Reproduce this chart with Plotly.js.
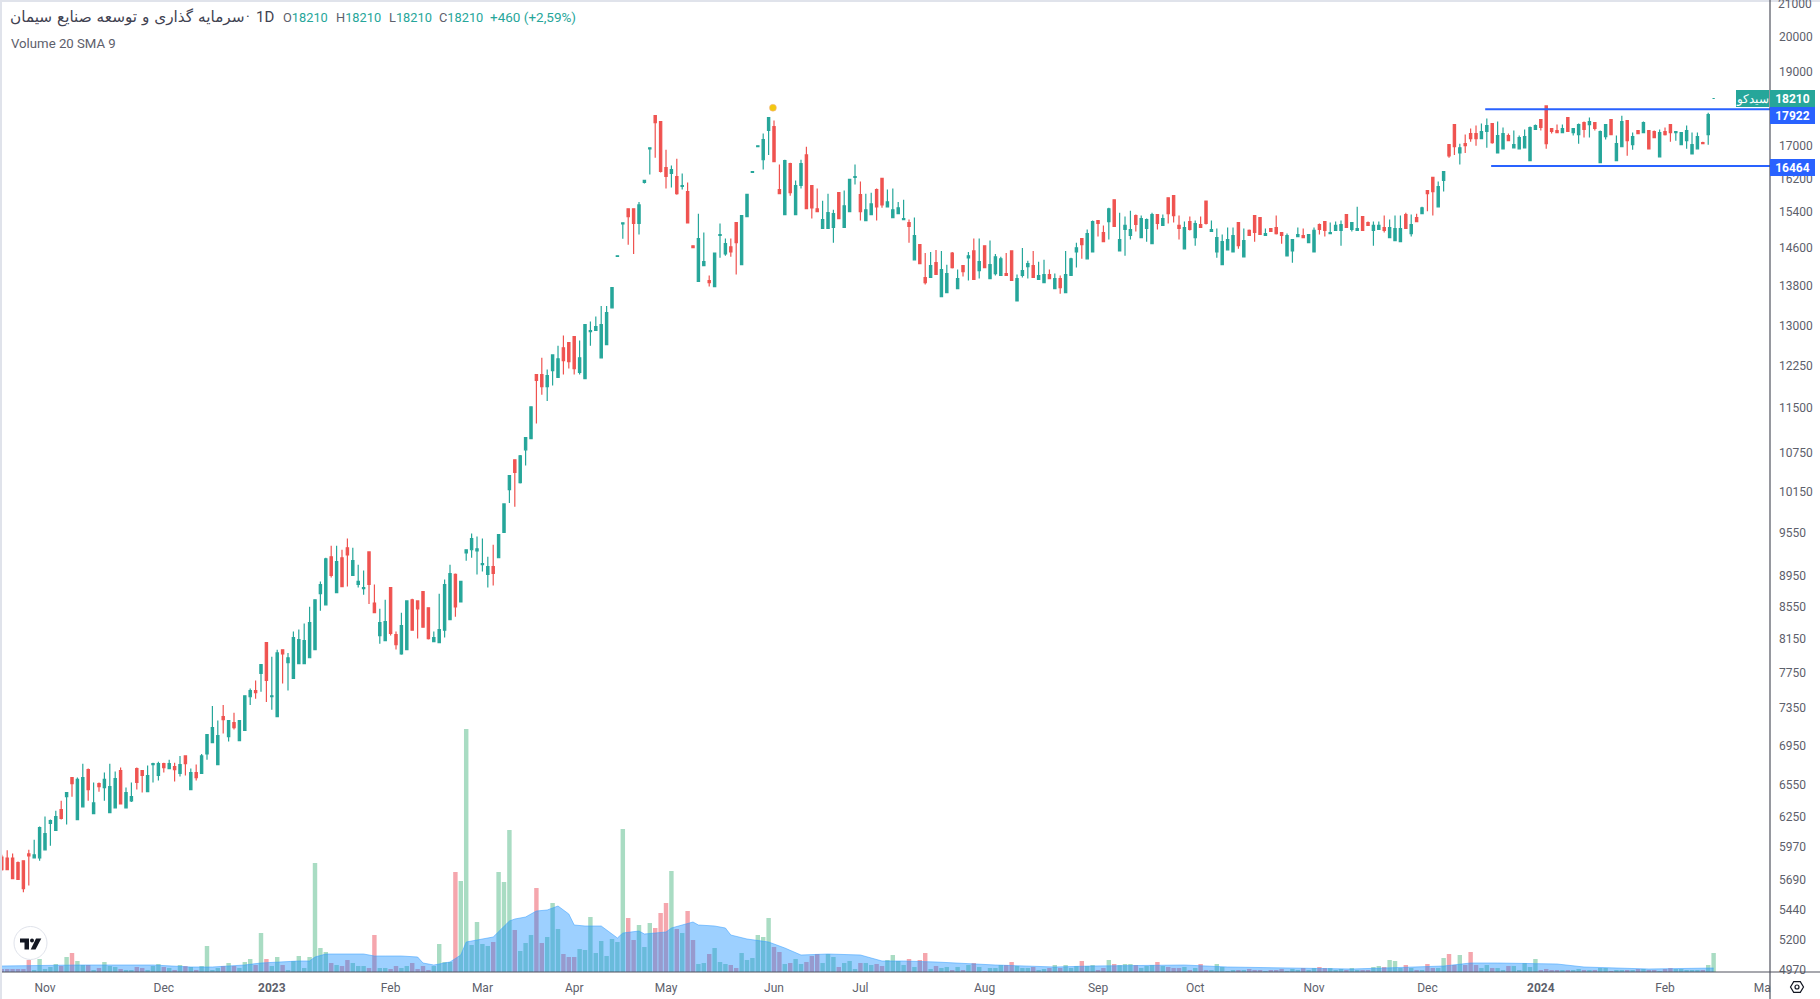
<!DOCTYPE html>
<html><head><meta charset="utf-8">
<script src="https://cdn.plot.ly/plotly-3.0.1.min.js"></script>
<style>html,body{margin:0;padding:0;background:#fff;overflow:hidden}#c{width:1820px;height:999px}</style>
</head><body><div id="c"></div>
<script>
const opens=[5870,5860,5860,5820,5837,5897,5863,5863,5933,6171,
6107,6299,6423,6609,6207,6326,6688,6262,6550,6511,
6271,6317,6678,6317,6383,6698,6678,6471,6738,6629,
6747,6698,6718,6649,6826,6491,6659,6649,6846,6962,
6738,7238,7026,7175,6983,7090,7456,7525,7719,8083,
7456,7238,7997,7845,7662,7834,7834,7903,8000,8696,
8552,9188,8709,9175,9313,8935,8816,8763,9255,8576,
8169,8107,8776,8181,7948,8000,8616,8603,8723,8514,
8095,8083,8235,8366,8949,8590,9241,9285,9270,9081,
8949,9055,9175,9528,10158,10620,10265,10778,10962,12061,
12061,11846,12133,12007,12552,12648,12764,12097,11989,12860,
12880,12365,12610,13324,14384,15100,15447,15447,15110,16064,
16892,17750,17594,16426,16281,16209,15968,15847,14617,13857,
14190,13878,13753,14842,14439,14595,15133,14210,15267,16306,
16944,16619,17360,17464,15896,15312,16523,15312,15992,16740,
15992,15447,14998,14998,15020,15823,15020,15379,16185,15775,
15177,15312,15896,16161,15491,15245,15334,15200,15133,14314,
14640,13940,13940,14252,13545,13628,14460,13711,14190,14356,
14505,14086,14617,13919,14023,13982,14023,14505,13462,13982,
14169,14190,13899,13836,14003,13711,13919,13628,13982,14483,
14774,14335,14483,15177,14909,15155,15654,14505,14976,14842,
15290,14797,14998,14662,15312,15066,15703,15751,15066,14550,
15155,14797,15088,15626,14931,14483,14211,14528,14483,15133,
14377,14954,15290,15245,14842,14998,15021,14909,14398,14505,
14819,14842,14684,14483,15088,15155,14886,14954,14954,15312,
14976,14954,15267,15133,14954,14976,15021,14797,14729,14707,
15312,14886,15245,15334,15871,16185,15491,16113,16996,17516,
16788,17022,17282,17282,17152,17334,17542,16788,16892,17230,
16918,16892,16918,16595,17386,17646,18010,17412,17360,17308,
17698,17308,17256,17568,17516,17568,16547,17204,17646,16595,
16944,17620,16996,17360,17308,17360,17334,16692,17334,17516,
17308,16996,17100,16764,16892,17048,17256,18210];
const highs=[5890,5930,5900,5830,5837,5933,6024,6143,6235,6207,
6290,6383,6462,6609,6609,6747,6698,6560,6560,6659,
6747,6668,6708,6511,6560,6708,6678,6728,6757,6767,
6757,6787,6757,6826,6826,6698,6738,6846,7047,7355,
7196,7366,7196,7281,7196,7467,7547,7639,7822,8083,
7914,7997,7997,7960,8218,8243,8317,8527,8616,8856,
9175,9342,9342,9285,9442,9313,9081,9001,9255,8816,
8502,8616,8776,8218,8453,8603,8630,8603,8723,8514,
8218,8696,8882,9081,8962,8856,9285,9513,9470,9442,
9188,9356,9499,9943,10373,10620,10697,10978,11494,12061,
12365,12150,12419,12591,12784,12648,12764,12687,12996,13053,
13150,13362,13362,13732,14398,15126,15447,15447,15605,16113,
16918,17750,17594,16866,16474,16643,16281,16064,14617,15334,
14909,13982,14460,15110,14774,14774,15133,15290,15782,16330,
16970,17282,17698,17620,16499,16619,16547,16113,16619,16944,
15992,15920,15630,15799,15424,15823,15871,16137,16499,16089,
15799,15823,15920,16161,15896,15920,15605,15654,15200,15245,
14640,14460,14483,14527,14505,14210,14483,14106,14190,14483,
14774,14774,14617,14730,14439,14377,14460,14505,14003,14568,
14294,14505,14273,14314,14106,14023,13982,14505,14356,14685,
14774,14976,15177,15177,15066,15469,15654,15357,15267,15402,
15312,15290,15222,15357,15312,15312,15703,15751,15290,15155,
15267,15178,15267,15626,15178,14998,14864,15021,15021,15133,
14998,14976,15290,15245,14998,14998,15290,14909,14886,14752,
15021,14998,14864,15021,15110,15155,15133,15155,15178,15312,
15133,15491,15267,15155,15155,15155,15290,15200,15290,15290,
15357,15312,15334,15491,15871,16185,16089,16330,16996,17516,
17022,17256,17412,17490,17542,17672,17542,17594,17438,17282,
17360,17230,17386,17464,17516,17646,18010,17412,17516,17516,
17698,17412,17542,17594,17698,17568,17360,17516,17646,17230,
17750,17620,17308,17360,17594,17360,17360,17386,17438,17516,
17334,17308,17490,17308,17308,17074,17828,18210];
const lows=[5750,5755,5684,5676,5568,5625,5863,5837,5933,5970,
6107,6207,6162,6423,6207,6326,6383,6262,6471,6383,
6271,6317,6354,6317,6373,6491,6462,6471,6560,6580,
6659,6698,6570,6619,6629,6491,6580,6649,6787,6962,
6738,7058,6973,7100,6983,7090,7366,7433,7513,7398,
7313,7238,7605,7525,7662,7834,7834,7903,8000,8477,
8552,8909,8709,8789,8789,8935,8776,8683,8564,8453,
8070,8107,8169,8000,7937,8000,8235,8132,8271,8120,
8095,8083,8144,8366,8403,8590,9135,9175,8949,8988,
8776,8802,9175,9528,9957,9900,10250,10528,10962,11211,
11702,11595,11864,12007,12061,12168,12061,12061,11989,12591,
12880,12365,12610,13324,14384,14771,14640,14440,14863,16040,
16257,16667,16306,15920,15944,15775,15896,15125,14573,13857,
14190,13753,13753,14356,14398,14377,14003,14210,15267,16306,
16944,16378,16740,16571,15799,15312,15751,15312,15920,15447,
15222,15379,14998,14998,14685,15222,15020,15379,16016,15177,
15177,15312,15177,15469,15491,15245,15334,15200,14685,14314,
14231,13794,13940,14003,13545,13628,14127,13711,13961,13878,
13899,13919,14148,13919,13982,13982,13982,13878,13462,13940,
13919,13940,13899,13836,13919,13711,13607,13628,13982,14148,
14335,14335,14483,14819,14707,14752,15043,14505,14398,14752,
14931,14797,14707,14662,14976,15066,15110,15133,14752,14550,
14954,14617,15021,15088,14931,14356,14211,14528,14483,14550,
14377,14842,14707,14864,14842,14931,14864,14662,14398,14252,
14819,14797,14684,14483,14864,14819,14886,14954,14617,15021,
14931,14954,14954,15066,14617,14976,14909,14797,14729,14707,
14998,14819,15155,15334,15387,15290,15491,15847,16667,16740,
16499,16788,17074,16970,17152,16918,17022,16788,16892,17100,
16918,16892,16918,16595,17386,17360,16892,17282,17308,17308,
17334,17230,17022,17178,17178,17360,16547,17126,17256,16595,
16944,16716,16866,17282,17308,16892,17178,16692,17230,17074,
17100,16996,16892,16764,16892,17022,16996,18210];
const closes=[5760,5760,5684,5676,5600,5880,5888,6134,6079,6198,
6235,6217,6462,6550,6590,6609,6491,6363,6520,6590,
6520,6599,6354,6462,6423,6560,6629,6629,6747,6747,
6708,6747,6688,6738,6747,6659,6609,6826,7047,7121,
7037,7206,7196,7121,7196,7467,7525,7502,7822,7639,
7467,7960,7948,7903,8144,8120,8107,8329,8616,8816,
9161,8935,9121,8789,9214,9135,8856,8776,8816,8453,
8329,8342,8194,8058,8292,8603,8235,8502,8271,8132,
8144,8243,8816,8962,8527,8856,9285,9442,9299,9095,
9055,8962,9499,9943,10373,10420,10682,10978,11494,11954,
11846,12043,12419,12348,12312,12294,12168,12365,12996,12880,
12957,12996,13227,13732,14398,15126,15267,15110,15536,16113,
16918,17568,16330,16209,16378,15799,15992,15125,14573,14774,
14273,13836,14460,14864,14662,14483,14685,15290,15782,16330,
16970,17126,17698,16571,15799,16595,15823,15992,16523,15447,
15469,15379,15200,15357,15334,15222,15514,16137,16209,15379,
15424,15559,15491,15536,15605,15424,15469,15222,15043,14842,
14231,13836,14190,14003,14106,14023,14148,13919,14065,14398,
13899,14273,14148,14210,14377,14335,13982,13878,13919,14086,
14231,13940,13982,14003,13919,13919,13732,14003,14335,14573,
14640,14886,15155,15110,14707,15447,15043,14752,15066,14976,
15088,15222,15200,15312,15110,15222,15334,15290,14998,15021,
14976,15110,15021,15110,14976,14797,14707,14752,14842,14617,
14729,14842,14909,14864,14886,14931,14886,14842,14842,14752,
14864,14797,14864,14954,14976,14954,14909,15066,15088,15021,
15133,14998,14954,15066,15066,15066,14954,15021,14998,14998,
14998,15088,15155,15469,15799,15847,15968,16330,16716,16944,
16918,16970,17152,17152,17334,17490,17048,17230,17282,17100,
16996,17178,17204,17438,17490,17438,17022,17334,17308,17412,
17334,17412,17516,17386,17594,17412,17334,17516,17256,17022,
17594,17100,17204,17282,17568,16892,17178,17308,17256,17308,
17334,17308,17360,16996,17204,17022,17776,18210];
const volumes=[3,3,3,3,3,12,2,13,3,5,8,6,15,19,11,7,7,2,4,10,
6,5,3,2,2,5,4,2,6,8,5,4,2,7,6,5,2,6,26,2,
4,6,9,6,4,10,13,7,39,13,6,15,7,2,11,16,4,15,109,24,
20,9,7,6,12,9,6,6,4,37,4,4,3,6,4,6,9,3,6,2,
6,28,10,10,100,91,243,27,50,28,26,30,100,90,142,42,21,29,37,84,
29,35,69,43,18,15,15,23,22,55,19,31,16,33,30,143,54,32,47,25,
49,44,59,69,101,43,39,61,32,8,9,18,24,10,8,7,4,19,12,14,
37,35,54,25,20,8,9,13,8,10,16,18,9,18,15,5,9,11,3,9,
9,7,8,6,12,17,11,7,13,5,12,19,3,6,4,5,2,5,2,7,
9,5,1,4,4,7,7,10,6,4,4,5,2,3,4,7,4,7,4,6,
11,6,7,2,4,12,8,7,8,8,7,4,6,7,10,6,5,4,4,5,
2,4,8,2,2,8,5,1,2,2,2,3,2,2,1,2,2,3,1,3,
2,4,2,4,5,4,4,2,3,2,4,2,2,2,5,6,5,12,11,4,
7,4,2,2,8,4,4,14,18,7,17,7,20,7,4,7,4,4,2,6,
6,2,9,5,13,2,3,2,2,2,2,2,3,2,2,2,4,4,1,2,
2,2,2,3,3,2,2,1,3,4,3,3,2,2,2,2,7,19];
const smaBars=[0,11,14,23,28,35,39,45,48,55,57,58,60,67,69,71,74,77,78,80,83,85,86,88,91,94,95,97,99,101,103,105,106,108,111,114,115,118,119,123,124,128,129,132,134,135,138,142,145,148,153,159,163,167,173,184,190,195,202,212,219,227,237,250,256,267,272,277,288,293,305,317];
const smaValues=[6,7,7,7,7,5,5,7,9,11,11,15,18,18,16,16,16,15,9,7,10,17,30,32,35,51,53,55,61,62,66,58,47,46,46,34,39,41,38,40,44,50,47,46,44,37,33,30,24,17,18,17,11,11,10,7,6,5,6,7,7,5,4,3,4,6,9,9,8,5,3,4];
const priceTicks=[20000,19000,17000,16200,15400,14600,13800,13000,12250,11500,10750,10150,9550,8950,8550,8150,7750,7350,6950,6550,6250,5970,5690,5440,5200,4970];
const monthBars=[8,30,50,72,89,106,123,143,159,182,203,221,243,264,285,308,326];
const monthLabels=['Nov','Dec','<b>2023</b>','Feb','Mar','Apr','May','Jun','Jul','Aug','Sep','Oct','Nov','Dec','<b>2024</b>','Feb','Ma'];
const levelHigh={bars:[274.7,327.5],price:[17922,17922]};
const levelLow={bars:[275.8,327.5],price:[16464,16464]};
const lastPrice=18210;
const markerBar=[142.8], markerPrice=[17960];

const bars=opens.map((_,i)=>i);
const TEAL='#26a69a',RED='#ef5350',GRAY='#5d606b',BLUE='#2962ff';
const volColors=bars.map(i=>closes[i]>=opens[i]?'rgba(83,185,135,0.5)':'rgba(235,77,92,0.5)');
const W=1820,H=999,L=2,R=1770,T=2,B=972;
const px=x=>(x-L)/(R-L), py=y=>1-(y-T)/(B-T);

const traces=[
 {type:'bar',x:bars,y:volumes,yaxis:'y2',width:0.82,marker:{color:volColors,line:{width:0}}},
 {type:'scatter',mode:'lines',x:smaBars,y:smaValues,yaxis:'y2',fill:'tozeroy',fillcolor:'rgba(10,137,255,0.4)',line:{color:'rgba(60,160,255,0.55)',width:1}},
 {type:'candlestick',x:bars,open:opens,high:highs,low:lows,close:closes,whiskerwidth:0,
  increasing:{line:{color:TEAL,width:1.2},fillcolor:TEAL},decreasing:{line:{color:RED,width:1.2},fillcolor:RED}},
 {type:'scatter',mode:'lines',x:levelHigh.bars,y:levelHigh.price,line:{color:BLUE,width:2}},
 {type:'scatter',mode:'lines',x:levelLow.bars,y:levelLow.price,line:{color:BLUE,width:2}},
 {type:'scatter',mode:'markers',x:markerBar,y:markerPrice,marker:{color:'#f2c80f',size:7,line:{color:'#f5b0a0',width:0.5}}}
];

function txt(x,y,text,size,color,extra){return Object.assign({xref:'paper',yref:'paper',x:px(x),y:py(y),text:text,showarrow:false,xanchor:'left',yanchor:'middle',borderpad:0,borderwidth:0,font:{family:'Roboto',size:size,color:color}},extra||{});}
function tag(p,text,bg,shift,w,x){return {xref:'paper',yref:'y',x:x,y:Math.log10(p),yshift:shift,text:text,showarrow:false,xanchor:'left',yanchor:'middle',bgcolor:bg,width:w,height:17,borderpad:0,borderwidth:0,align:'center',valign:'middle',font:{family:'Roboto',size:12,color:'#fff'}};}
const hv=(l,v,c)=>`<span style="color:${GRAY}">${l}</span><span style="color:${c}">${v}</span>`;
const annotations=[
 txt(10,17.5,'سرمایه گذاری و توسعه صنایع سیمان',15,'#3f4251',{font:{family:'DejaVu Sans',size:15.3,color:'#3f4251'}}),
 txt(246,17.5,'·',14,'#3f4251'),
 txt(256,17.5,'1D',15,'#3f4251'),
 txt(283,17.5,hv('O','18210',TEAL),12.8,GRAY),
 txt(336,17.5,hv('H','18210',TEAL),12.8,GRAY),
 txt(389,17.5,hv('L','18210',TEAL),12.8,GRAY),
 txt(439,17.5,hv('C','18210',TEAL),12.8,GRAY),
 txt(490,17.5,'+460 (+2,59%)',13.5,TEAL),
 txt(11,44,'Volume 20 SMA 9',13.2,GRAY),
 txt(1778,4,'21000',12,GRAY),
 tag(lastPrice,'<b>18210</b>',TEAL,0,45,1),
 tag(17922,'<b>17922</b>',BLUE,-6,45,1),
 tag(16464,'<b>16464</b>',BLUE,-1,45,1),
 tag(lastPrice,'سیدکو',TEAL,0,33,px(1736))
];
const pathOf=pts=>'M'+pts.map(p=>px(p[0])+','+py(p[1])).join('L')+'Z';
const shapes=[
 {type:'rect',xref:'paper',yref:'paper',x0:px(0),x1:px(2),y0:py(0),y1:py(999),fillcolor:'#e0e3eb',line:{width:0}},
 {type:'rect',xref:'paper',yref:'paper',x0:px(0),x1:px(1820),y0:py(0),y1:py(2),fillcolor:'#e0e3eb',line:{width:0}},
 {type:'line',xref:'paper',yref:'paper',x0:px(1770),x1:px(1770),y0:py(0),y1:py(999),line:{color:'#50535e',width:1.2}},
 {type:'line',xref:'paper',yref:'paper',x0:px(2),x1:px(1820),y0:py(972),y1:py(972),line:{color:'#50535e',width:1.2}},
 {type:'circle',xref:'paper',yref:'paper',x0:px(14),x1:px(47),y0:py(926.5),y1:py(959.5),fillcolor:'#fff',line:{color:'#e0e3eb',width:1}},
 {type:'path',xref:'paper',yref:'paper',path:pathOf([[20,938.5],[29,938.5],[29,949.5],[24.5,949.5],[24.5,942.5],[20,942.5]]),fillcolor:'#131722',line:{width:0}},
 {type:'circle',xref:'paper',yref:'paper',x0:px(30),x1:px(34),y0:py(938.5),y1:py(942.5),fillcolor:'#131722',line:{width:0}},
 {type:'path',xref:'paper',yref:'paper',path:pathOf([[41.3,938.5],[35.5,949.5],[30.7,949.5],[36,938.5]]),fillcolor:'#131722',line:{width:0}},
 {type:'path',xref:'paper',yref:'paper',path:pathOf([[1790.5,987],[1793.7,981.7],[1800.3,981.7],[1803.5,987],[1800.3,992.3],[1793.7,992.3]]),fillcolor:'rgba(0,0,0,0)',line:{color:'#131722',width:1.2}},
 {type:'circle',xref:'paper',yref:'paper',x0:px(1795),x1:px(1799),y0:py(985),y1:py(989),fillcolor:'rgba(0,0,0,0)',line:{color:'#131722',width:1.2}}
];
const labelNudge=Math.exp(-1.5/670);
const layout={
 width:W,height:H,margin:{l:L,r:W-R,t:T,b:H-B,pad:0},paper_bgcolor:'#fff',plot_bgcolor:'#fff',showlegend:false,hovermode:false,
 boxgap:0.58,boxgroupgap:0,dragmode:false,annotations:annotations,shapes:shapes,
 font:{family:'Roboto',size:12,color:GRAY},
 xaxis:{range:[0.037,327.44],tickmode:'array',tickvals:monthBars,ticktext:monthLabels,showgrid:false,zeroline:false,showline:false,ticks:'',rangeslider:{visible:false},tickfont:{family:'Roboto',size:12,color:GRAY},fixedrange:true,ticklabelstandoff:7},
 yaxis:{type:'log',side:'right',range:[Math.log10(4944),Math.log10(21031)],tickmode:'array',tickvals:priceTicks.map(p=>p*labelNudge),ticktext:priceTicks.map(String),showgrid:false,zeroline:false,showline:false,ticks:'',tickfont:{family:'Roboto',size:12,color:GRAY},fixedrange:true,ticklabelstandoff:8},
 yaxis2:{overlaying:'y',side:'right',range:[0,970],showticklabels:false,showgrid:false,zeroline:false,showline:false,ticks:'',fixedrange:true}
};
Plotly.newPlot('c',traces,layout,{displayModeBar:false,staticPlot:true,responsive:false});
</script></body></html>
